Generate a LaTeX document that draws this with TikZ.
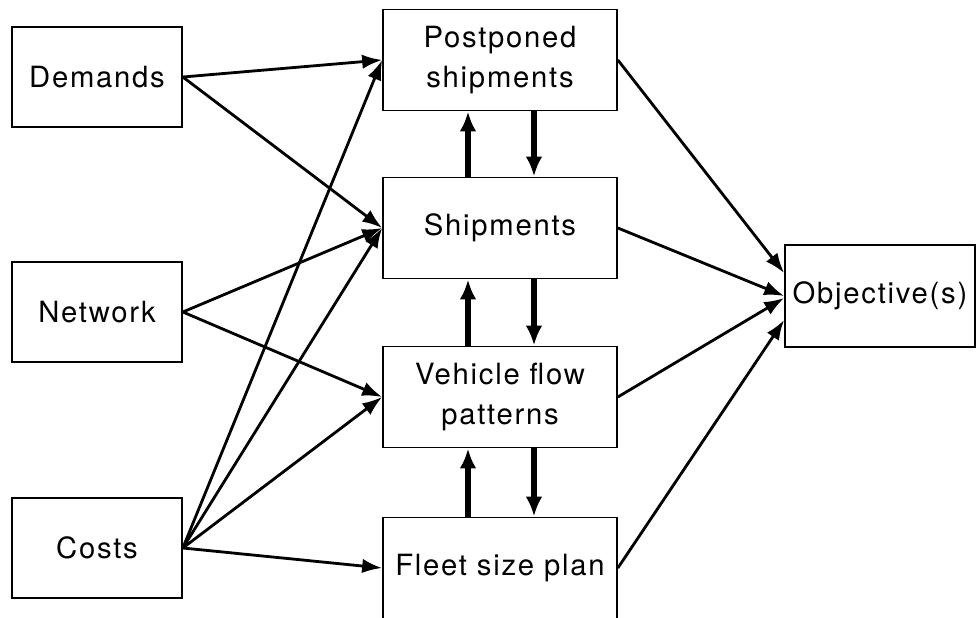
\documentclass[tikz,border=0pt]{standalone}
\usepackage{fontspec}
\setmainfont[LetterSpace=6]{TeX Gyre Heros}
\usepackage{xcolor}
\usepackage{tikz}
\usetikzlibrary{positioning,arrows.meta}

\begin{document}
\begin{tikzpicture}[every node/.style={draw,line width=1.2pt,align=center,font=\fontsize{20.8}{29}\selectfont,inner sep=0pt}]
  \useasboundingbox (0,0) rectangle (24.475,-15.45);
  \tikzset{inbox/.style={minimum width=4.25cm,minimum height=2.5cm},
           midbox/.style={minimum width=5.85cm,minimum height=2.53cm},
           feed/.style={line width=2pt,-{Latex[length=0.5cm,width=0.36cm]}},
           link/.style={line width=4.2pt,-{Latex[length=0.5cm,width=0.42cm]}}}
  \def\mx{12.5}
  \node[inbox] (dem) at (2.425,-1.925) {Demands};
  \node[inbox] (net) at (2.425,-7.8) {Network};
  \node[inbox] (cost) at (2.425,-13.7) {Costs};
  \node[midbox] (post) at (\mx,-1.5) {Postponed\\shipments};
  \node[midbox] (ship) at (\mx,-5.7) {Shipments};
  \node[midbox] (veh) at (\mx,-9.925) {Vehicle flow\\patterns};
  \node[midbox] (fleet) at (\mx,-14.2) {Fleet size plan};
  \node[minimum width=4.75cm,minimum height=2.55cm] (obj) at (22,-7.4) {Objective(s)};
  \begin{scope}[every path/.style={feed}]
    \draw (dem.east)--(post.west); \draw (dem.east)--(ship.west);
    \draw (net.east)--(ship.west); \draw (net.east)--(veh.west);
    \draw (cost.east)--(post.west); \draw (cost.east)--(ship.west);
    \draw (cost.east)--(veh.west); \draw (cost.east)--(fleet.west);
    \draw (post.east)--([yshift=0.575cm]obj.west);
    \draw (ship.east)--(obj.west);
    \draw (veh.east)--([yshift=-0.05cm]obj.west);
    \draw (fleet.east)--([yshift=-0.6cm]obj.west);
  \end{scope}
  \begin{scope}[every path/.style={link}]
    \draw ([xshift=-0.8cm]ship.north)--([xshift=-0.8cm]post.south);
    \draw ([xshift=0.85cm]post.south)--([xshift=0.85cm]ship.north);
    \draw ([xshift=-0.8cm]veh.north)--([xshift=-0.8cm]ship.south);
    \draw ([xshift=0.85cm]ship.south)--([xshift=0.85cm]veh.north);
    \draw ([xshift=-0.8cm]fleet.north)--([xshift=-0.8cm]veh.south);
    \draw ([xshift=0.85cm]veh.south)--([xshift=0.85cm]fleet.north);
  \end{scope}
\end{tikzpicture}
\end{document}
